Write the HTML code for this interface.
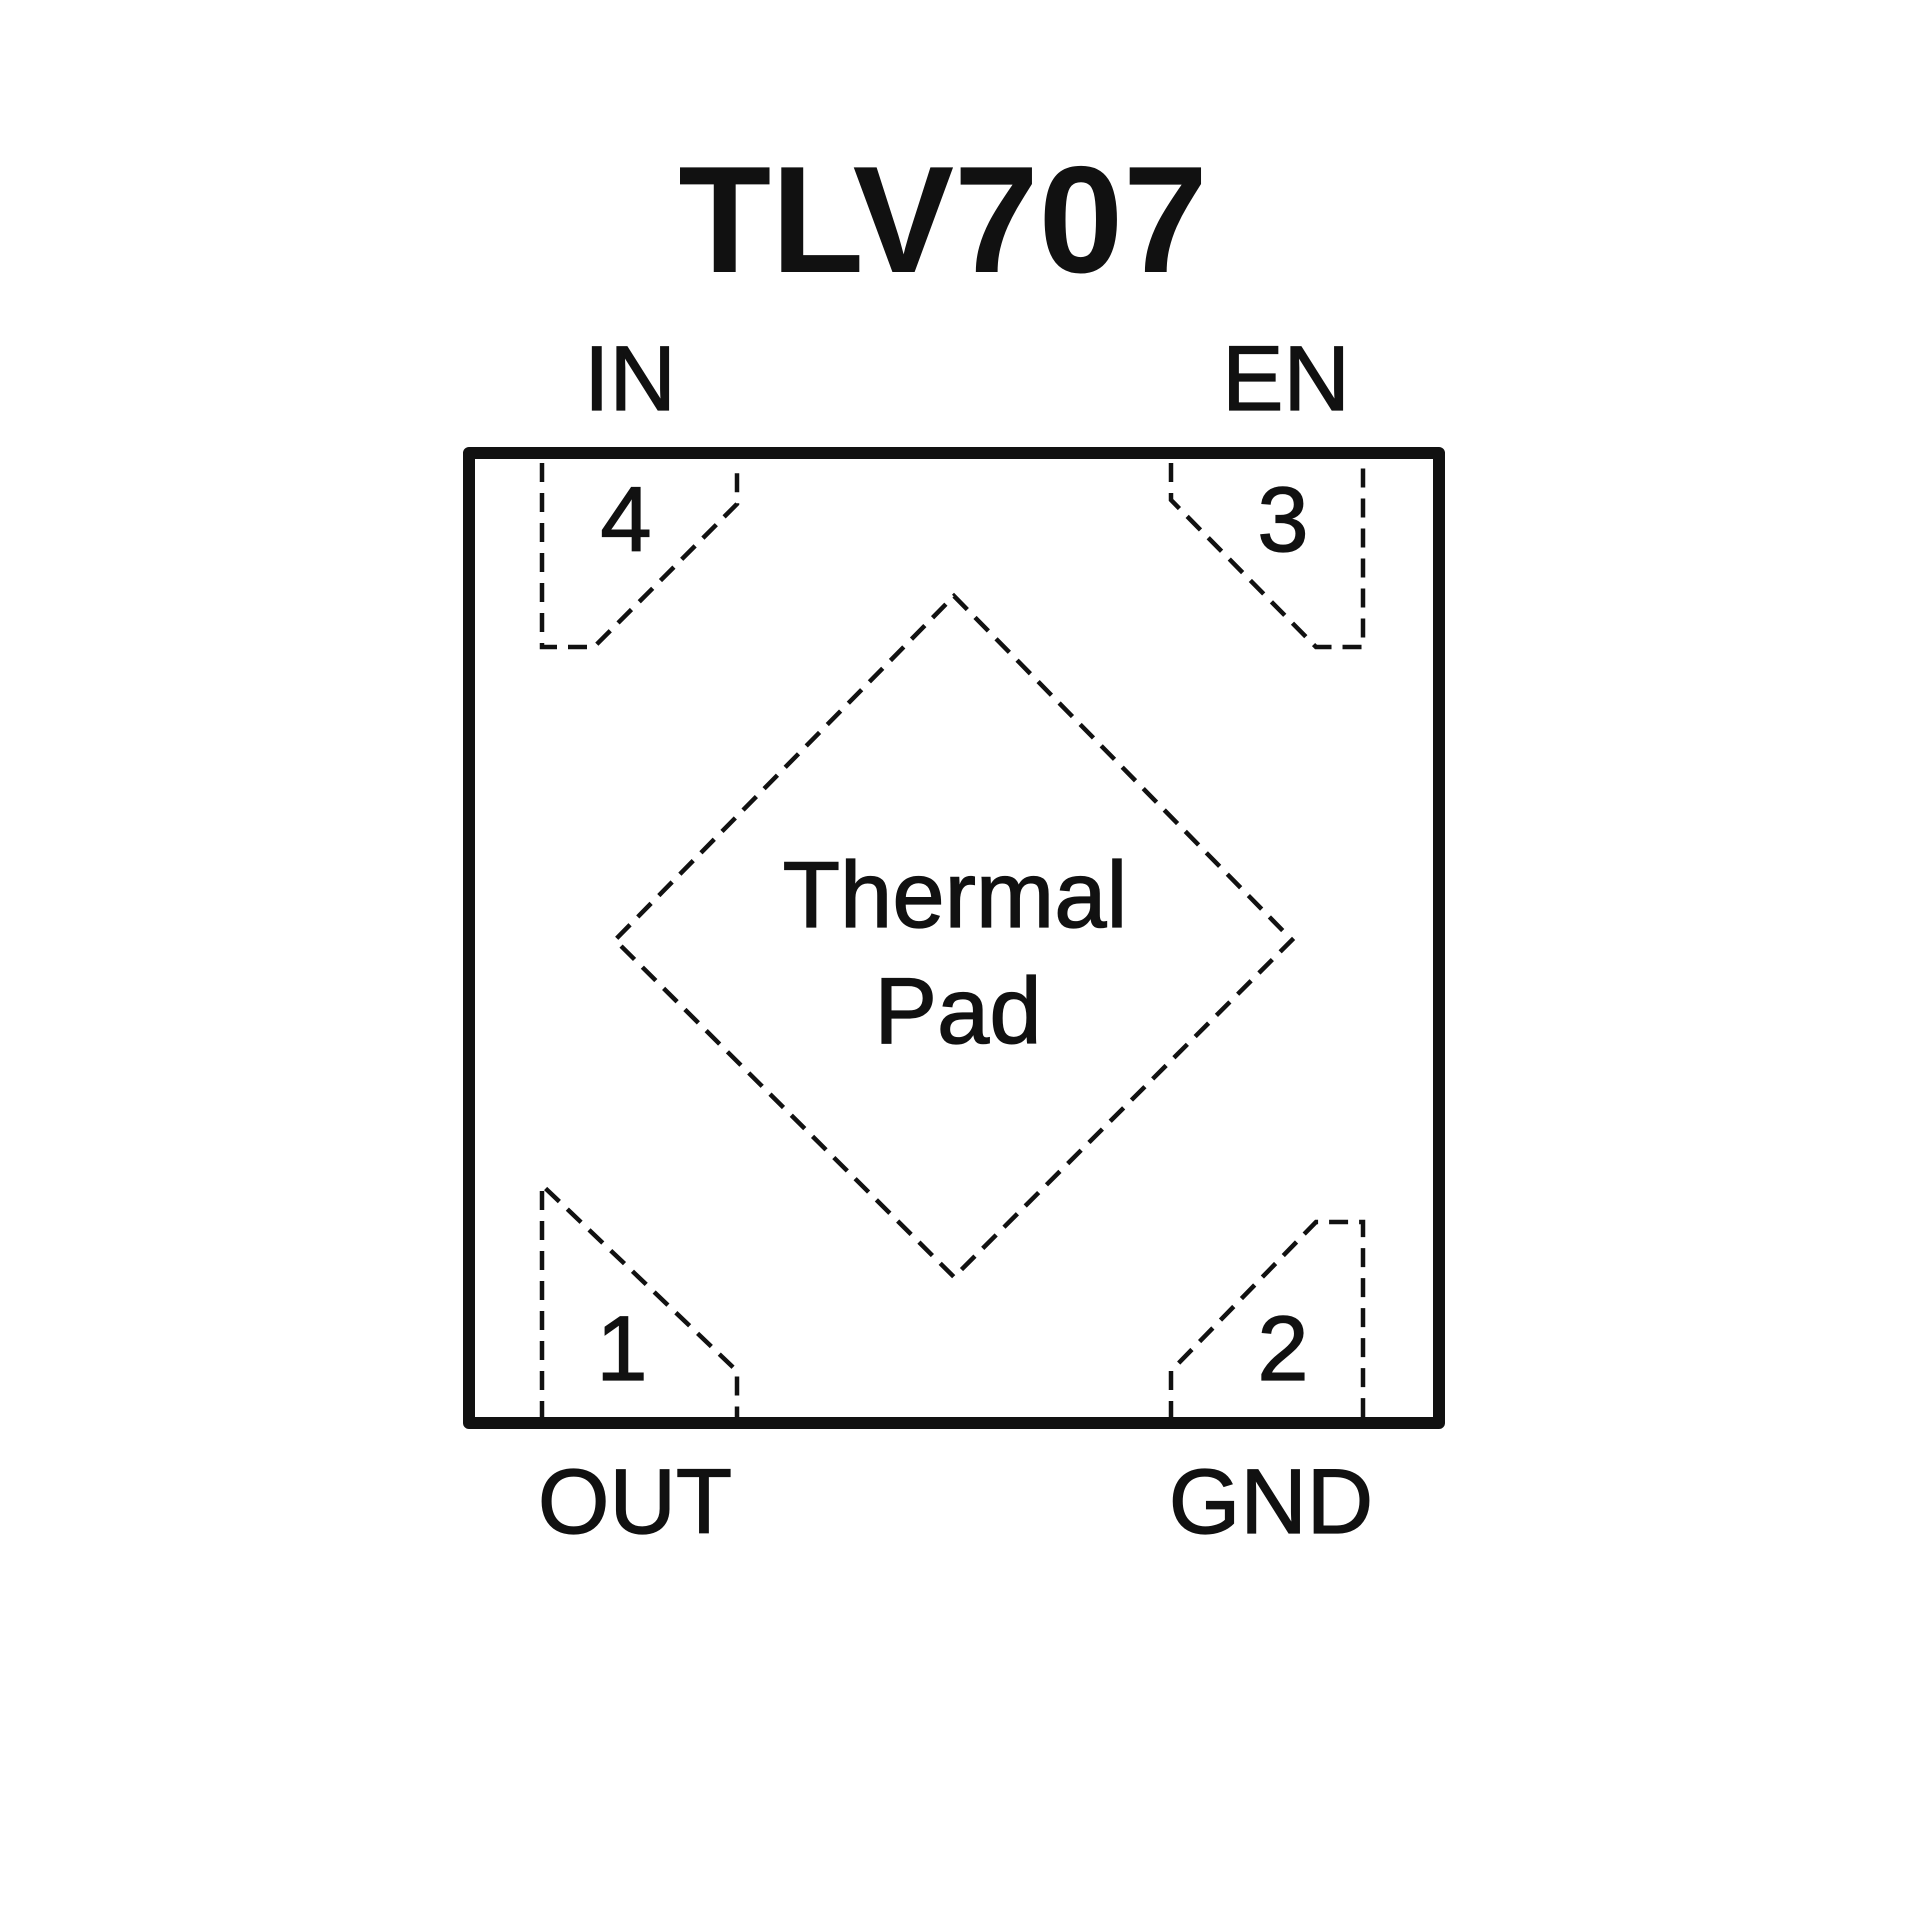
<!DOCTYPE html>
<html><head><style>html,body{margin:0;padding:0;background:#fff;}svg{display:block}</style></head>
<body>
<svg width="1920" height="1920" viewBox="0 0 1920 1920" xmlns="http://www.w3.org/2000/svg" font-family="Liberation Sans, Arial, sans-serif" fill="#111">
<text x="943" y="272" font-size="152" font-weight="bold" text-anchor="middle">TLV707</text>
<g stroke="#111" stroke-width="1.3">
<text x="630" y="410" font-size="92" text-anchor="middle">IN</text>
<text x="1286" y="410" font-size="92" text-anchor="middle">EN</text>
<text x="635" y="1533" font-size="92" text-anchor="middle">OUT</text>
<text x="1271" y="1533" font-size="92" text-anchor="middle">GND</text>
<text x="626" y="551" font-size="92" text-anchor="middle">4</text>
<text x="1283" y="551" font-size="92" text-anchor="middle">3</text>
<text x="622" y="1380" font-size="92" text-anchor="middle">1</text>
<text x="1283" y="1380" font-size="92" text-anchor="middle">2</text>
<text x="955" y="927" font-size="94" text-anchor="middle">Thermal</text>
<text x="958" y="1043" font-size="94" text-anchor="middle">Pad</text>
</g>
<rect x="469" y="453" width="970" height="970" fill="none" stroke="#111" stroke-width="12" stroke-linejoin="round"/>
<g fill="none" stroke="#111" stroke-width="4.5" stroke-dasharray="19 11">
<polyline points="542,463 542,647 594,647 737,504 737,463"/>
<polyline points="1171,463 1171,500 1316,647 1363,647 1363,463"/>
<polyline points="542,1420 542,1185 737,1371 737,1420"/>
<polyline points="1171,1420 1171,1371 1316,1222 1363,1222 1363,1420"/>
<polygon points="954,596 1292,940 954,1277 615,940"/>
</g>
</svg>
</body></html>
